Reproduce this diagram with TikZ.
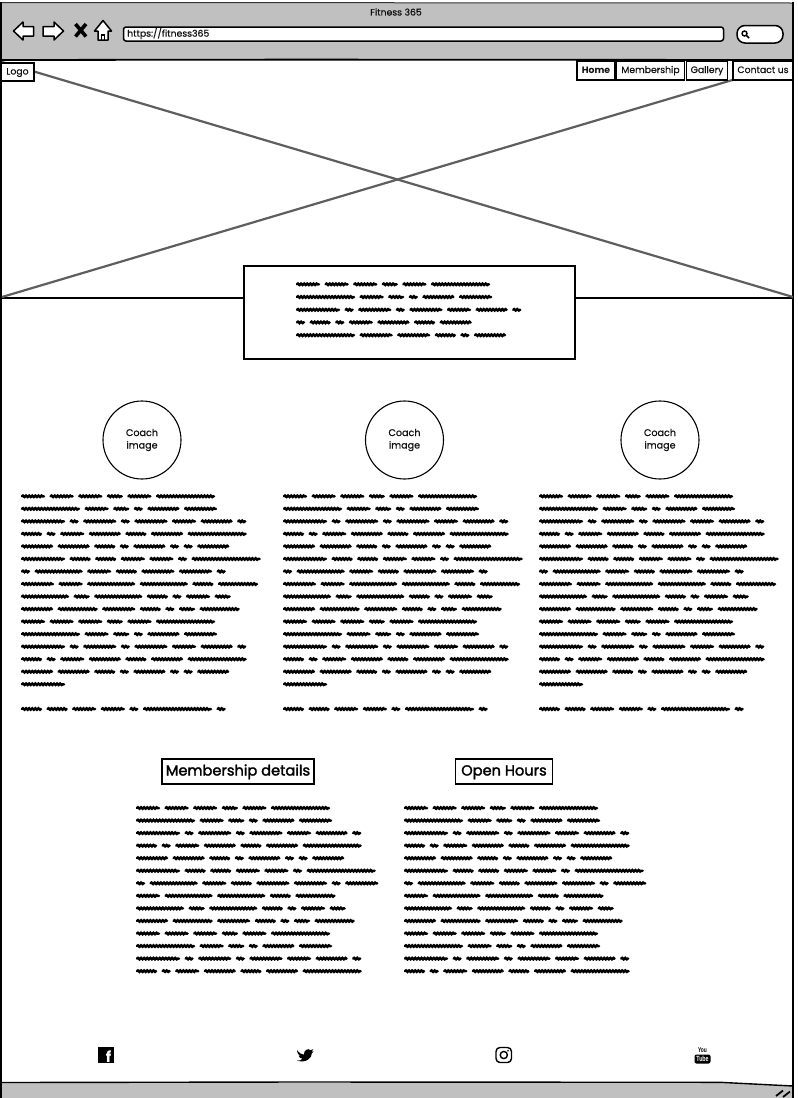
\documentclass[tikz,border=0pt]{standalone}
\usepackage{fontspec}
\setmainfont{Poppins}
\newfontfamily\ytfont[FakeStretch=0.7]{Liberation Sans}
\usetikzlibrary{decorations.pathmorphing}
\definecolor{barGray}{HTML}{C0C0C0}
\definecolor{crossGray}{HTML}{5E5E5E}
\definecolor{inkText}{HTML}{111111}
\newcommand\medium{\addfontfeature{FakeBold=1.9}}
\newcommand\slightbold{\addfontfeature{FakeBold=0.5}}
\tikzset{
  gk/.style={line width=2.5pt,line cap=round,decorate,decoration={snake,amplitude=.7pt,segment length=3.1pt}},
  navbox/.style={draw=black,line width=1.2pt,fill=white,inner sep=0pt,text=inkText,font=\fontsize{9.3}{11}\selectfont\slightbold,minimum height=19pt,text height=7pt,text depth=2pt},
  headbox/.style={draw=black,line width=1.2pt,fill=white,inner sep=0pt,minimum height=25pt,text height=11pt,text depth=3pt,font=\fontsize{14.6}{18}\selectfont\medium},
  coachc/.style={draw=black,line width=1.1pt,circle,fill=white,minimum size=78pt,inner sep=0pt,align=center,font=\fontsize{9.6}{12.5}\selectfont\slightbold,text=inkText},
  tool/.style={draw=black,line width=1.5pt,fill=white,line join=round},
  cross/.style={draw=crossGray,line width=2.2pt},
}
\def\gwa{24}\def\gwb{59}\def\gwc{16}\def\gwd{9}\def\gwe{32}\def\gwf{33}\def\gwg{44}\def\gwh{21}\def\gwi{69}\def\gwj{48}\def\gwk{40}
\def\gLa{\gwa,\gwa,\gwa,\gwc,\gwa,\gwb}
\def\gLb{\gwb,\gwa,\gwc,\gwd,\gwe,\gwf}
\def\gLc{\gwg,\gwd,\gwf,\gwd,\gwf,\gwa,\gwe,\gwd}
\def\gLd{\gwh,\gwd,\gwa,\gwe,\gwh,\gwe,\gwb}
\def\gLe{\gwe,\gwe,\gwh,\gwd,\gwe,\gwd,\gwd,\gwe}
\def\gLf{\gwg,\gwh,\gwh,\gwa,\gwa,\gwd,\gwi}
\def\gLg{\gwd,\gwj,\gwa,\gwh,\gwf,\gwf,\gwd}
\def\gLgm{\gwd,\gwj,\gwa,\gwh,\gwf,\gwf,\gwd,\gwf}
\def\gLh{\gwf,\gwa,\gwj,\gwj,\gwh,\gwk}
\def\gLhm{\gwa,\gwj,\gwj,\gwh,\gwk}
\def\gLi{\gwj,\gwc,\gwj,\gwh,\gwd,\gwa,\gwc}
\def\gLj{\gwe,\gwk,\gwf,\gwh,\gwd,\gwc,\gwk}
\def\gLk{\gwg}
\def\gLl{\gwh,\gwh,\gwa,\gwa,\gwd,\gwi,\gwd}
\def\gLba{\gwd,\gwh,\gwd,\gwa,\gwe,\gwh,\gwe}
\def\gLbb{\gwb,\gwf,\gwf,\gwh,\gwd,\gwe}
\newcommand\gkline[3]{%
  \xdef\gkx{#1}%
  \edef\gklist{#3}%
  \foreach \w in \gklist {%
    \pgfmathsetmacro\gkw{\w-2}%
    \pgfmathsetmacro\gks{\gkx+1}%
    \draw[gk] (\gks,#2) -- ++(\gkw,0);
    \pgfmathparse{\gkx+\w+4.6}\xdef\gkx{\pgfmathresult}%
  }%
}
\newcommand\gkcolumn[1]{%
  \foreach \gi/\gn in {0/\gLa,1/\gLb,2/\gLc,3/\gLd,4/\gLe,5/\gLf,6/\gLg,7/\gLh,8/\gLi,9/\gLj,10/\gLa,11/\gLb,12/\gLc,13/\gLd,14/\gLe,15/\gLk}{%
    \pgfmathsetmacro\yy{496.3+12.53*\gi}%
    \gkline{#1}{\yy}{\gn}%
  }%
  \gkline{#1}{709}{\gLl}%
}
\newcommand\gklower[1]{%
  \foreach \gi/\gn in {0/\gLa,1/\gLb,2/\gLc,3/\gLd,4/\gLe,5/\gLf,6/\gLgm,7/\gLhm,8/\gLi,9/\gLj,10/\gLa,11/\gLb,12/\gLc,13/\gLd}{%
    \pgfmathsetmacro\yy{808+12.55*\gi}%
    \gkline{#1}{\yy}{\gn}%
  }%
}
\begin{document}
\begin{tikzpicture}[x=1pt,y=-1pt]
\useasboundingbox (0,0) rectangle (798,1098);
\fill[white] (0,0) rectangle (798,1098);
% title bar
\fill[barGray] (2,3) rectangle (793,59);
\draw[line width=1pt,black!80] (1.5,2.5) -- (793,3);
\draw[line width=1.8pt] (2,60) -- (300,59.6) -- (793,60);
% footer bar
\fill[barGray] (2,1083) -- (720,1082.5) -- (793,1086) -- (793,1098) -- (2,1098) -- cycle;
\draw[line width=1.4pt] (2,1082.5) -- (300,1082) -- (720,1082.3) -- (793,1086);
\draw[line width=1.8pt] (776,1096) -- (783,1090.5);
\draw[line width=1.8pt] (783,1097) -- (790,1091.5);
% outer frame
\draw[line width=2pt] (1,2) -- (1,1098);
\draw[line width=1.8pt] (793,2) -- (793,1098);
% hero image rule
\draw[line width=1.6pt] (2,298) -- (792,298);
% cross
\coordinate (crossTL) at (2,62);
\coordinate (crossBR) at (793,297);
\coordinate (crossBL) at (2,297);
\coordinate (crossTR) at (793,62);
\draw[cross] (crossTL) -- (crossBR);
\draw[cross] (crossBL) -- (crossTR);
% browser tools
\draw[tool] (13.5,31) -- (23,22) -- (23,26.5) -- (33.5,26.5) -- (33.5,36) -- (23,36) -- (23,40) -- cycle;
\draw[tool] (63.5,31) -- (54,22) -- (54,26.5) -- (43,26.5) -- (43,36) -- (54,36) -- (54,40) -- cycle;
\draw[line width=3.6pt,black] (75.5,24) -- (86,36.5);
\draw[line width=3.6pt,black] (86,24) -- (75.5,36.5);
\draw[tool] (103,20.5) -- (111.5,31) -- (108,31) -- (108,40) -- (98,40) -- (98,31) -- (94.5,31) -- cycle;
\draw[line width=1.1pt] (101.5,40) -- (101.5,35) -- (104.5,35) -- (104.5,40);
\node[draw=black,line width=1.5pt,fill=white,rounded corners=2.5pt,minimum width=600pt,minimum height=14pt,inner sep=0pt] (urlbar) at (423.5,34) {};
\node[anchor=west,inner sep=0pt,font=\fontsize{9.3}{11}\selectfont\slightbold,text=inkText] (urltext) at (127,33.5) {https://fitness365};
\node[inner sep=0pt,font=\fontsize{9.3}{11}\selectfont\slightbold,text=inkText] (title) at (396,12) {Fitness 365};
\draw[tool,rounded corners=8pt] (737,25.5) rectangle (783,43);
\draw[line width=1.4pt] (744.5,33.5) circle (2.5pt);
\draw[line width=1.6pt] (746.5,35.5) -- (749,38);
% nav
\node[navbox,minimum width=33pt,minimum height=18pt] (logo) at (17.5,72) {Logo};
\node[navbox,minimum width=38pt,font=\fontsize{9.3}{11}\selectfont\bfseries] (home) at (596,70.5) {Home};
\node[navbox,minimum width=68pt] (member) at (650.5,70.5) {Membership};
\node[navbox,minimum width=41pt] (gallery) at (707,70.5) {Gallery};
\node[navbox,minimum width=60pt] (contact) at (763,70.5) {Contact us};
% hero text box
\node[draw=black,line width=1.3pt,fill=white,minimum width=331pt,minimum height=93pt,inner sep=0pt] (herobox) at (409.5,312.5) {};
\gkline{296}{284.3}{\gLa}
\gkline{296}{297}{\gLb}
\gkline{296}{309.8}{\gLc}
\gkline{296}{322.4}{\gLba}
\gkline{296}{335.2}{\gLbb}
% coaches
\node[coachc] (coachA) at (142,440) {Coach\\image};
\node[coachc] (coachB) at (404.5,440) {Coach\\image};
\node[coachc] (coachC) at (660,440) {Coach\\image};
\gkcolumn{21}
\gkcolumn{283}
\gkcolumn{539}
% headings
\node[headbox,minimum width=152pt] (memhead) at (238,771.5) {Membership details};
\node[headbox,minimum width=97pt] (openhead) at (504,771.5) {Open Hours};
\gklower{136}
\gklower{404}
% social
\fill[black] (98,1047) rectangle (114,1063);
\node[inner sep=0pt,text=white,font=\fontsize{15}{15}\selectfont\bfseries] (fb) at (108.5,1056.5) {f};
\begin{scope}[xshift=44.55pt,x=.85pt,yshift=.8pt]
\fill[black] (297,1051) .. controls (300,1054) and (302,1055) .. (305,1055.5)
  .. controls (305,1051) and (310,1048.5) .. (313,1051) -- (316,1050) -- (314.5,1052.5) -- (316.5,1052.2) -- (314.5,1054)
  .. controls (314.5,1059) and (308,1064) .. (297,1061.5)
  .. controls (300,1061.5) and (302,1061) .. (303.5,1059.5)
  .. controls (301,1059.5) and (299.5,1058) .. (299,1056.5) -- (301,1056.5)
  .. controls (298.5,1055.5) and (297.5,1054) .. (297.5,1053)
  -- (299.5,1053.5) .. controls (297.5,1052.5) and (296.5,1052.5) .. (297,1051) -- cycle;
\end{scope}
\draw[line width=1.4pt,rounded corners=4pt] (496,1047.5) rectangle (511.5,1062.5);
\draw[line width=1.4pt] (503.8,1055) circle (3.6pt);
\fill (508,1050.8) circle (.9pt);
\node[inner sep=0pt,font=\fontsize{7}{7}\selectfont\ytfont\bfseries] (ytyou) at (702.5,1050) {You};
\node[fill=black,rounded corners=2pt,inner sep=.8pt,text=white,font=\fontsize{7.5}{8}\selectfont\ytfont\bfseries,minimum width=16pt,minimum height=9pt] (yttube) at (702.5,1059) {Tube};
\end{tikzpicture}
\end{document}
